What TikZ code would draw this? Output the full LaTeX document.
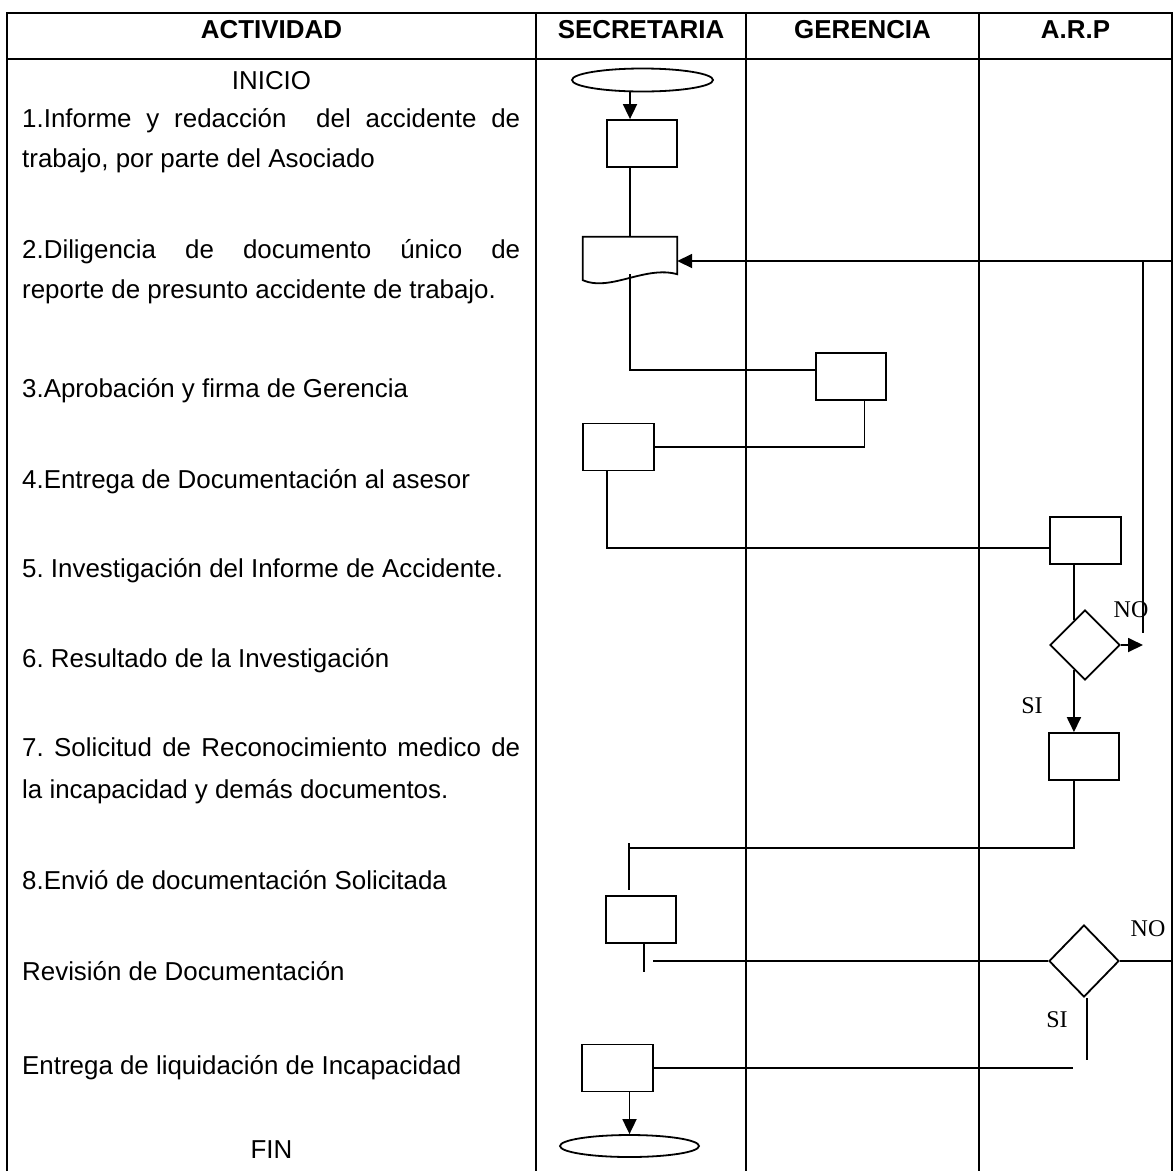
\documentclass[tikz,border=0pt]{standalone}
\usepackage{fontspec}
\setmainfont{Liberation Sans}
\newfontfamily\labelfont{Liberation Serif}
\usetikzlibrary{shapes.geometric,arrows.meta,calc}
\frenchspacing

\begin{document}
\begin{tikzpicture}[x=1pt,y=-1pt,
  grid/.style={line width=2.5pt},
  flow/.style={line width=1.8pt},
  box/.style={draw,line width=1.8pt,rectangle,minimum width=70.5pt,minimum height=47pt,inner sep=0},
  term/.style={draw,line width=1.8pt,ellipse,minimum width=141pt,minimum height=23pt,inner sep=0},
  decide/.style={draw,line width=1.8pt,diamond,minimum width=70pt,minimum height=70pt,inner sep=0},
  head/.style={font=\fontsize{25.9}{31}\selectfont\bfseries,anchor=base,inner sep=0},
  act/.style={font=\fontsize{25.9}{31}\selectfont,anchor=base west,inner sep=0},
  mid/.style={font=\fontsize{25.9}{31}\selectfont,anchor=base,inner sep=0},
  yn/.style={font=\labelfont\fontsize{24}{28}\selectfont,inner sep=0},
  tip/.style={-{Triangle[length=15pt,width=14pt]}}
]
\useasboundingbox (0,0) rectangle (1175,1171);

% table frame and lane dividers
\draw[grid] (7,1171) -- (7,13) -- (1172,13) -- (1172,1171);
\draw[grid] (7,59) -- (1172,59);
\draw[grid] (536,13) -- (536,1171);
\draw[grid] (746,13) -- (746,1171);
\draw[grid] (979,13) -- (979,1171);

% column headings
\node[head] (hA) at (271.5,38) {ACTIVIDAD};
\node[head] (hS) at (641,38) {SECRETARIA};
\node[head] (hG) at (862.5,38) {GERENCIA};
\node[head] (hR) at (1075.5,38) {A.R.P};

% activity descriptions
\node[mid] (tIni) at (271.5,89) {INICIO};
\node[act] (t1a) at (22,127) {\makebox[498pt][s]{1.Informe y redacción\ \ del accidente de}};
\node[act] (t1b) at (22,167) {trabajo, por parte del Asociado};
\node[act] (t2a) at (22,258) {\makebox[498pt][s]{2.Diligencia de documento único de}};
\node[act] (t2b) at (22,298) {reporte de presunto accidente de trabajo.};
\node[act] (t3) at (22,397) {3.Aprobación y firma de Gerencia};
\node[act] (t4) at (22,488) {4.Entrega de Documentación al asesor};
\node[act] (t5) at (22,577) {5. Investigación del Informe de Accidente.};
\node[act] (t6) at (22,667) {6. Resultado de la Investigación};
\node[act] (t7a) at (22,756) {\makebox[498pt][s]{7. Solicitud de Reconocimiento medico de}};
\node[act] (t7b) at (22,798) {la incapacidad y demás documentos.};
\node[act] (t8) at (22,889) {8.Envió de documentación Solicitada};
\node[act] (t9) at (22,980) {Revisión de Documentación};
\node[act] (t10) at (22,1074) {Entrega de liquidación de Incapacidad};
\node[mid] (tFin) at (271.5,1158) {FIN};

% flow symbols
\node[term] (start) at (642.5,80) {};
\node[box] (b1) at (642,143.5) {};
\node[minimum width=94pt,minimum height=37pt,inner sep=0] (doc) at (630,255.5) {};
\draw[flow] (doc.north west) -- (doc.north east) -- (doc.south east)
  .. controls ($(doc.south east)+(-32,-9)$) and ($(doc.south west)+(27,18)$) .. ($(doc.south west)+(0,6)$) -- cycle;
\node[box] (b3) at (851,376.5) {};
\node[box] (b4) at (618.5,447) {};
\node[box] (b5) at (1085.5,540.5) {};
\node[decide] (d1) at (1085,645) {};
\node[box] (b6) at (1084,756.5) {};
\node[box] (b7) at (641,919.5) {};
\node[decide,minimum height=72pt] (d2) at (1084,961) {};
\node[box] (b8) at (617.5,1068) {};
\node[term,minimum width=139pt,minimum height=22pt] (end) at (629.5,1146) {};

% free ends of connectors
\coordinate (rb1) at (1172,261);
\coordinate (fb) at (1143,261);
\coordinate (fbl) at (1143,633);
\coordinate (j8) at (629,848);
\coordinate (t7) at (629,843);
\coordinate (r7) at (653,961);
\coordinate (rb2) at (1172,961);
\coordinate (s2) at (1087,1060);
\coordinate (e8) at (1073,1068);

% connectors
\draw[flow,tip] (doc.north |- start.south) -- (doc.north |- b1.north);
\draw[flow] (doc.north |- b1.south) -- (doc.north);
\draw[flow,tip] (rb1) -- (rb1 -| doc.east);
\draw[flow] (fb) -- (fbl);
\draw[flow] (doc.south) |- (b3.170);
\draw[flow] (b3.-61) |- (b4.east);
\draw[flow] (b4.-116.6) |- (b5.192);
\draw[flow] (d1.114.6 |- b5.south) -- (d1.114.6);
\draw[flow,tip] (d1.east) -- (d1.east -| fb);
\draw[flow,tip] (d1.-114.6) -- (d1.-114.6 |- b6.north);
\draw[flow] (b6.-113) |- (j8);
\draw[flow,shorten >=5pt] (t7) -- (t7 |- b7.north);
\draw[flow] ([xshift=3pt]b7.south) -- ++(0,28);
\draw[flow] (r7) -- (d2.west);
\draw[flow] (d2.east) -- (rb2);
\draw[flow] ([xshift=3pt]d2.south) -- (s2);
\draw[flow] (b8.east) -- (e8);
\draw[flow,tip] (end.north |- b8.south) -- (end.north);

% decision labels
\node[yn] (no1) at (1131,610) {NO};
\node[yn] (si1) at (1032,706) {SI};
\node[yn] (no2) at (1148,929) {NO};
\node[yn] (si2) at (1057,1020) {SI};
\end{tikzpicture}
\end{document}
